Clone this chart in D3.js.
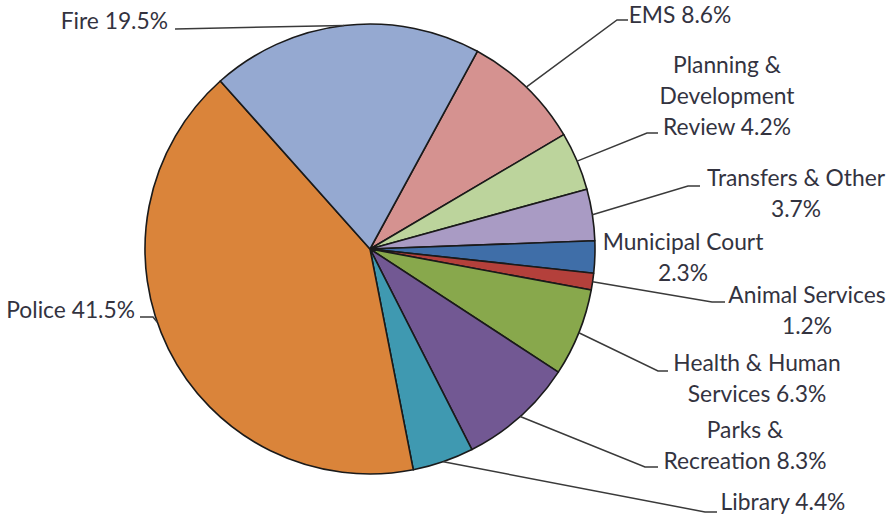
<!DOCTYPE html>
<html><head><meta charset="utf-8">
<script src="https://cdn.jsdelivr.net/npm/d3@7"></script>
<style>html,body{margin:0;padding:0;background:#fff;}svg{display:block;}</style>
</head><body>
<svg id="chart" width="888" height="518"></svg>
<script>
const categories = ["EMS","Planning & Development Review","Transfers & Other","Municipal Court","Animal Services","Health & Human Services","Parks & Recreation","Library","Police","Fire"];
const values = [8.6,4.2,3.7,2.3,1.2,6.3,8.3,4.4,41.5,19.5];
const colors = ["#D59290","#BCD49C","#A99BC4","#3F6EA8","#B4403B","#88A84C","#725893","#3F99B1","#DA843A","#95A9D1"];
const labelLines = [["EMS"],["Planning &","Development","Review"],["Transfers & Other",""],["Municipal Court",""],["Animal Services",""],["Health & Human","Services"],["Parks &","Recreation"],["Library"],["Police"],["Fire"]];

// layout (positions only)
const cx = 370, cy = 249, R = 225, startDeg = 28.5;
const labelPos = [
  {x:680,y:15,anchor:"middle",lead:[[628,20],[617,20]]},
  {x:727,y:65,anchor:"middle",lead:[[658,133],[647,133]]},
  {x:796,y:178,anchor:"middle",lead:[[700,186],[688,186]]},
  {x:683,y:242,anchor:"middle",lead:null},
  {x:807,y:295,anchor:"middle",lead:[[725,302],[712,302]]},
  {x:757,y:363,anchor:"middle",lead:[[668,371],[658,371]]},
  {x:745,y:430,anchor:"middle",lead:[[658,467],[645,467]]},
  {x:783,y:502,anchor:"middle",lead:[[717,512],[705,512]]},
  {x:135,y:310,anchor:"end",lead:[[140,317],[153,317]],angle:251},
  {x:168,y:21,anchor:"end",lead:[[175,29]]}
];
const lineH = 31;

const svg = d3.select("#chart");
const g = svg.append("g").attr("transform",`translate(${cx},${cy})`);
const a0 = startDeg*Math.PI/180;
const pie = d3.pie().sort(null).value(d=>d).startAngle(a0).endAngle(a0+2*Math.PI);
const arcs = pie(values);
const arc = d3.arc().innerRadius(0).outerRadius(R);
const edge = d3.arc().innerRadius(R).outerRadius(R);

g.selectAll("path.slice").data(arcs).enter().append("path")
  .attr("class","slice").attr("d",arc)
  .attr("fill",(d,i)=>colors[i])
  .attr("stroke","#1a1a1a").attr("stroke-width",1.6).attr("stroke-linejoin","round");

// leader lines
arcs.forEach((d,i)=>{
  const p = labelPos[i];
  if(!p.lead) return;
  let end;
  if(p.angle!==undefined){
    const t = p.angle*Math.PI/180;
    end = [cx + R*Math.sin(t), cy - R*Math.cos(t)];
  } else {
    const c = edge.centroid(d);
    end = [cx + c[0], cy + c[1]];
  }
  const pts = p.lead.concat([end]);
  svg.append("path").attr("d",d3.line()(pts))
    .attr("fill","none").attr("stroke","#3a3a3a").attr("stroke-width",1.5);
});

// labels
categories.forEach((c,i)=>{
  const p = labelPos[i];
  const lines = labelLines[i].slice();
  const last = lines.length-1;
  lines[last] = lines[last] + (lines[last]==="" ? "" : " ") + values[i].toFixed(1) + "%";
  const t = svg.append("text")
    .attr("text-anchor",p.anchor)
    .attr("font-family","Lato, 'Open Sans', sans-serif")
    .attr("font-size",22.8)
    .attr("fill","#33333f");
  lines.forEach((ln,k)=>{
    t.append("tspan").attr("x",p.x).attr("y",p.y + k*lineH).attr("dy","0.35em").text(ln);
  });
});
</script>
</body></html>
